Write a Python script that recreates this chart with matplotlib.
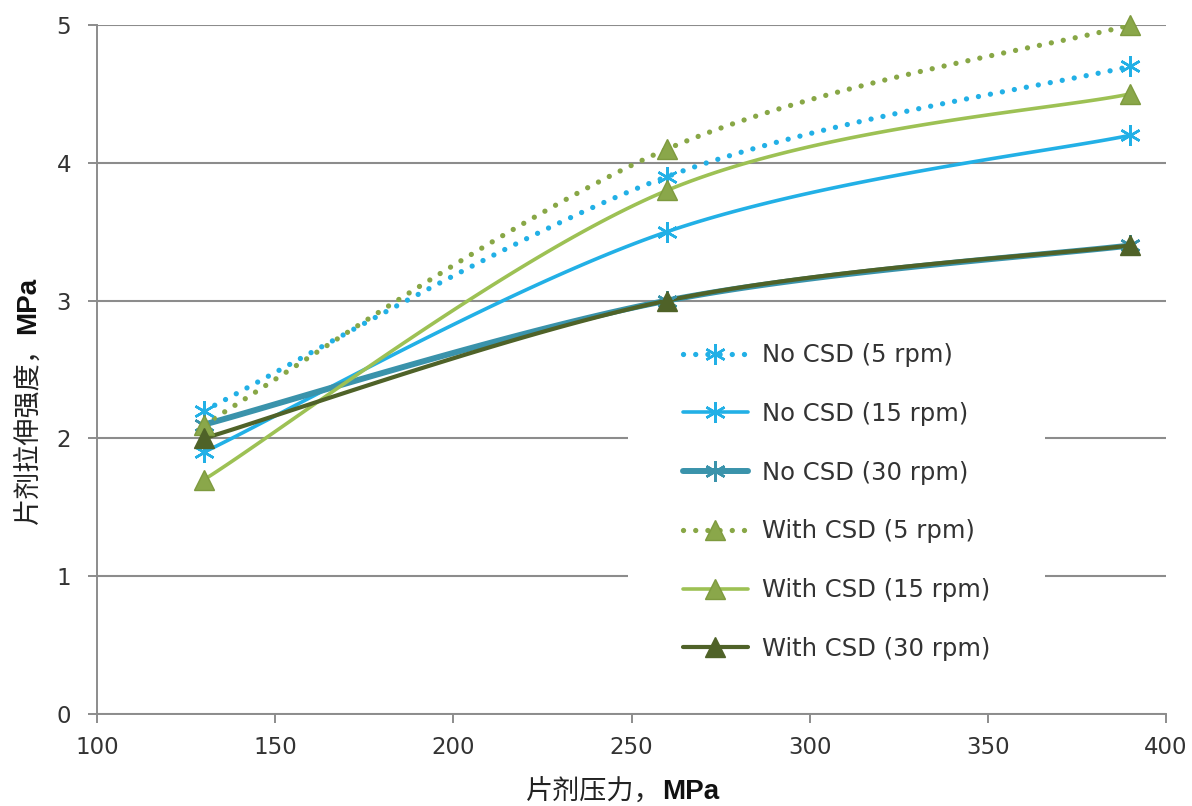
import numpy as np
import matplotlib
matplotlib.use("Agg")
import matplotlib.pyplot as plt
from matplotlib.lines import Line2D
from matplotlib.patches import Rectangle

# ---- data ----
pressure = [130, 260, 390]
series_names = ["No CSD (5 rpm)", "No CSD (15 rpm)", "No CSD (30 rpm)",
                "With CSD (5 rpm)", "With CSD (15 rpm)", "With CSD (30 rpm)"]
no_csd_5 = [2.2, 3.9, 4.7]
no_csd_15 = [1.9, 3.5, 4.2]
no_csd_30 = [2.1, 3.0, 3.4]
with_csd_5 = [2.1, 4.1, 5.0]
with_csd_15 = [1.7, 3.8, 4.5]
with_csd_30 = [2.0, 3.0, 3.4]
x_ticks = [100, 150, 200, 250, 300, 350, 400]
y_ticks = [0, 1, 2, 3, 4, 5]

values = [no_csd_5, no_csd_15, no_csd_30, with_csd_5, with_csd_15, with_csd_30]

star = (6, 2, 0)
dotted = (0, (0.01, 2.3))
styles = [
    dict(color="#22B0E6", lw=3.8, ls=dotted, marker=star, mfc="#22B0E6", mec="#22B0E6", ms=15, mew=1.8),
    dict(color="#22B0E6", lw=2.6, ls="-", marker=star, mfc="#22B0E6", mec="#22B0E6", ms=15, mew=1.8),
    dict(color="#3A93AB", lw=4.3, ls="-", marker=star, mfc="#3A93AB", mec="#3A93AB", ms=15, mew=1.8),
    dict(color="#88A746", lw=3.8, ls=dotted, marker="^", mfc="#8AA74A", mec="#7E9A3E", ms=15, mew=1),
    dict(color="#9DC154", lw=2.6, ls="-", marker="^", mfc="#8AA74A", mec="#7E9A3E", ms=15, mew=1),
    dict(color="#4F6228", lw=3.0, ls="-", marker="^", mfc="#4F6228", mec="#4F6228", ms=15, mew=1),
]


def smooth(xs, ys, n=60):
    """Excel-like smoothed line (Catmull-Rom Bezier) through the points."""
    P = np.column_stack([xs, ys]).astype(float)
    out = []
    for i in range(len(P) - 1):
        p0 = P[i - 1] if i > 0 else P[i]
        p1, p2 = P[i], P[i + 1]
        p3 = P[i + 2] if i + 2 < len(P) else P[i + 1]
        c1 = p1 + (p2 - p0) / 6.0
        c2 = p2 - (p3 - p1) / 6.0
        t = np.linspace(0, 1, n)[:, None]
        seg = ((1 - t) ** 3) * p1 + 3 * ((1 - t) ** 2) * t * c1 + 3 * (1 - t) * t ** 2 * c2 + t ** 3 * p2
        out.append(seg if i == 0 else seg[1:])
    out = np.vstack(out)
    return out[:, 0], out[:, 1]


fig = plt.figure(figsize=(11.92, 8.06), dpi=100)
ax = fig.add_axes([97 / 1192, 1 - 714 / 806, (1166 - 97) / 1192, (714 - 25) / 806])

ax.set_xlim(100, 400)
ax.set_ylim(0, 5)
ax.set_xticks(x_ticks)
ax.set_yticks(y_ticks)
ax.set_yticklabels([str(v) for v in y_ticks])
ax.yaxis.grid(True, color="#8C8C8C", lw=1.5, zorder=0)
ax.set_axisbelow(True)
for s in ["top", "right"]:
    ax.spines[s].set_visible(False)
for s in ["left", "bottom"]:
    ax.spines[s].set_color("#8C8C8C")
    ax.spines[s].set_linewidth(1.4)
ax.tick_params(axis="both", direction="out", length=6.5, color="#8C8C8C", width=1.4,
               labelsize=16.5, labelcolor="#333333")
ax.tick_params(axis="y", pad=12)
ax.tick_params(axis="x", pad=9)

# white legend background panel (hides grid lines behind legend)
ax.add_patch(Rectangle(((628 - 97) / 1069, (714 - 690) / 689), (1045 - 628) / 1069,
                       (690 - 312) / 689, transform=ax.transAxes, facecolor="white",
                       edgecolor="none", zorder=1))

handles = []
for name, vals, st in zip(series_names, values, styles):
    sx, sy = smooth(pressure, vals)
    ax.plot(sx, sy, color=st["color"], lw=st["lw"], ls=st["ls"],
            dash_capstyle="round", solid_capstyle="round", zorder=3)
    ax.plot(pressure, vals, ls="none", marker=st["marker"], ms=st["ms"],
            mfc=st["mfc"], mec=st["mec"], mew=st["mew"], zorder=4, clip_on=False)
    handles.append(Line2D([], [], color=st["color"], lw=st["lw"], ls=st["ls"],
                          dash_capstyle="round", solid_capstyle="round",
                          marker=st["marker"], ms=st["ms"], mfc=st["mfc"],
                          mec=st["mec"], mew=st["mew"]))

leg = ax.legend(handles, series_names, loc="center left",
                bbox_to_anchor=((671 - 97) / 1069, (714 - 502) / 689),
                frameon=False, fontsize=17.5, handlelength=2.65, handletextpad=0.6,
                labelspacing=1.43, borderpad=0, numpoints=1)
leg.set_zorder(5)
for t in leg.get_texts():
    t.set_color("#333333")

cjk = ["Noto Sans CJK SC", "DejaVu Sans"]
t1 = fig.text(526 / 1192, 1 - 792 / 806, "片剂压力，", family=cjk, fontsize=19.5,
              ha="left", va="center", color="#222222")
ax.annotate("MPa", xy=(1, 0.5), xycoords=t1, ha="left", va="center",
            fontsize=20, fontweight="bold", color="#111111", family="Liberation Sans")

t2 = fig.text(28 / 1192, 1 - 524 / 806, "片剂拉伸强度，", family=cjk, fontsize=19.5,
              rotation=90, ha="center", va="bottom", color="#222222")
ax.annotate("MPa", xy=(0.5, 1), xycoords=t2, ha="center", va="bottom", rotation=90,
            fontsize=20, fontweight="bold", color="#111111", family="Liberation Sans")

fig.savefig("out.png", dpi=100)
